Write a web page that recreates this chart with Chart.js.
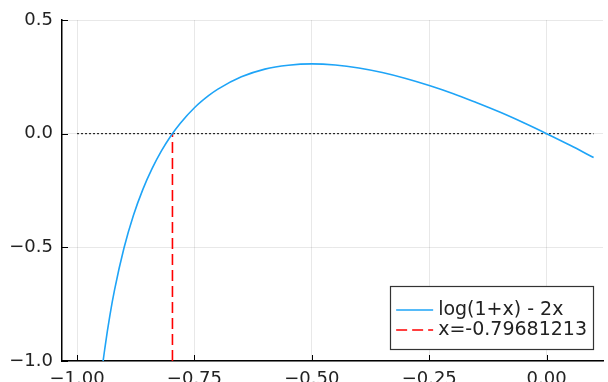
<!DOCTYPE html>
<html>
<head>
<meta charset="utf-8">
<script src="https://cdn.jsdelivr.net/npm/chart.js@4/dist/chart.umd.min.js"></script>
<style>
  html, body { margin: 0; padding: 0; background: #fff; }
</style>
</head>
<body>
<canvas id="rootChart" width="608" height="382"></canvas>
<script>
// curve values
const curveX = [-0.99, -0.97, -0.95, -0.94, -0.93, -0.92, -0.90, -0.88, -0.86, -0.84, -0.82, -0.80,
  -0.78, -0.75, -0.72, -0.70, -0.65, -0.60, -0.55, -0.50, -0.45, -0.40, -0.35, -0.30,
  -0.25, -0.20, -0.15, -0.10, -0.05, 0.00, 0.05, 0.10];
const curveY = [-2.625, -1.567, -1.096, -0.933, -0.799, -0.686, -0.503, -0.360, -0.246, -0.153, -0.075, -0.009,
  0.046, 0.114, 0.167, 0.196, 0.250, 0.284, 0.301, 0.307, 0.302, 0.289, 0.269, 0.243,
  0.212, 0.177, 0.137, 0.095, 0.049, 0.000, -0.051, -0.105];

const rootX = -0.79681213;
const rootLineY = [-1, 0];
const zeroLineX = [-1, 0.1];

const xTicks = [-1.0, -0.75, -0.5, -0.25, 0.0];
const yTicks = [-1.0, -0.5, 0.0, 0.5];

const seriesLabels = ['log(1+x) - 2x', 'x=-0.79681213'];

const minus = s => s.replace('-', '\u2212');

// ticks pointing into the plot, like the original
const innerTicks = {
  id: 'innerTicks',
  afterDatasetsDraw(chart) {
    const { ctx, chartArea, scales } = chart;
    ctx.save();
    ctx.strokeStyle = '#000';
    ctx.lineWidth = 1;
    ctx.beginPath();
    xTicks.forEach(v => {
      const px = Math.round(scales.x.getPixelForValue(v)) + 0.5;
      ctx.moveTo(px, chartArea.bottom);
      ctx.lineTo(px, chartArea.bottom - 6);
    });
    yTicks.forEach(v => {
      const py = Math.round(scales.y.getPixelForValue(v)) + 0.5;
      ctx.moveTo(chartArea.left, py);
      ctx.lineTo(chartArea.left + 6, py);
    });
    ctx.stroke();
    ctx.restore();
  }
};

// boxed legend in the lower right corner
const boxLegend = {
  id: 'boxLegend',
  afterDraw(chart) {
    const { ctx, chartArea } = chart;
    const sets = chart.data.datasets.slice(0, 2);
    ctx.save();
    ctx.font = '19px "DejaVu Sans"';
    const textW = Math.max(...sets.map(d => ctx.measureText(d.label).width));
    const w = 6 + 37 + 5 + textW + 6;
    const h = 63;
    const x0 = chartArea.right - 10 - w;
    const y0 = chartArea.bottom - 12 - h;
    ctx.fillStyle = '#fff';
    ctx.fillRect(x0, y0, w, h);
    ctx.strokeStyle = '#333';
    ctx.lineWidth = 1.2;
    ctx.strokeRect(Math.round(x0) + 0.5, Math.round(y0) + 0.5, Math.round(w), h);
    sets.forEach((d, i) => {
      const cy = y0 + 24 + i * 20;
      ctx.strokeStyle = d.borderColor;
      ctx.lineWidth = d.borderWidth;
      ctx.setLineDash(d.borderDash || []);
      ctx.beginPath();
      ctx.moveTo(x0 + 6, cy);
      ctx.lineTo(x0 + 43, cy);
      ctx.stroke();
      ctx.setLineDash([]);
      ctx.fillStyle = '#222';
      ctx.textBaseline = 'middle';
      ctx.fillText(d.label, x0 + 48, cy);
    });
    ctx.restore();
  }
};

const ctx = document.getElementById('rootChart').getContext('2d');
const rootChart = new Chart(ctx, {
  type: 'scatter',
  data: {
    datasets: [{
      label: seriesLabels[0],
      data: curveX.map((x, i) => ({ x: x, y: curveY[i] })),
      showLine: true,
      borderColor: '#1EA4F7',
      borderWidth: 1.6,
      pointRadius: 0,
      cubicInterpolationMode: 'monotone'
    }, {
      label: seriesLabels[1],
      data: rootLineY.map(y => ({ x: rootX, y: y })),
      showLine: true,
      borderColor: '#FF0000',
      borderWidth: 1.6,
      borderDash: [11, 5],
      pointRadius: 0
    }, {
      label: '',
      data: zeroLineX.map(x => ({ x: x, y: 0 })),
      showLine: true,
      borderColor: '#000',
      borderWidth: 1,
      borderDash: [2, 2],
      pointRadius: 0
    }]
  },
  options: {
    responsive: false,
    animation: false,
    devicePixelRatio: 1,
    layout: { padding: { top: 20, right: 5, left: 0, bottom: 0 } },
    plugins: {
      legend: { display: false },
      tooltip: { enabled: false }
    },
    scales: {
      x: {
        type: 'linear',
        min: -1.032,
        max: 0.12,
        afterBuildTicks: s => { s.ticks = xTicks.map(v => ({ value: v })); },
        afterFit: s => { s.height = 21; },
        grid: { color: 'rgba(0,0,0,0.09)', drawTicks: false },
        border: { color: '#000', width: 1.5 },
        ticks: {
          padding: 8,
          maxRotation: 0,
          color: '#222',
          font: { family: 'DejaVu Sans', size: 18 },
          callback: v => minus(v.toFixed(2))
        }
      },
      y: {
        type: 'linear',
        min: -1,
        max: 0.5,
        afterBuildTicks: s => { s.ticks = yTicks.map(v => ({ value: v })); },
        afterFit: s => { s.width = 62; },
        grid: { color: 'rgba(0,0,0,0.09)', drawTicks: false },
        border: { color: '#000', width: 1.5 },
        ticks: {
          padding: 9,
          color: '#222',
          font: { family: 'DejaVu Sans', size: 18 },
          callback: v => minus(v.toFixed(1))
        }
      }
    }
  },
  plugins: [innerTicks, boxLegend]
});
</script>
</body>
</html>
